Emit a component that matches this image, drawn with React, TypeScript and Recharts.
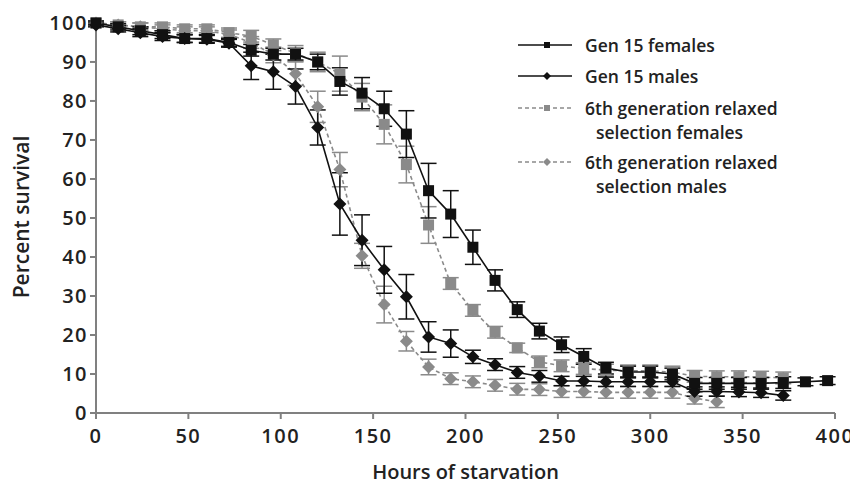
import React from "react";
import { LineChart, Line, XAxis, YAxis, ErrorBar } from "recharts";

// hours of starvation, sampled every 12 h
const hours = [
  0, 12, 24, 36, 48, 60, 72, 84, 96, 108, 120, 132, 144, 156, 168, 180, 192,
  204, 216, 228, 240, 252, 264, 276, 288, 300, 312, 324, 336, 348, 360, 372,
  384, 396,
];

const gen15Females = [
  100, 99, 98, 97, 96, 96, 95, 93, 92, 92, 90, 85, 82, 78, 71.5, 57, 51, 42.5,
  34, 26.5, 21, 17.5, 14.5, 11.5, 10.5, 10.5, 10, 7.6, 7.6, 7.6, 7.6, 7.8, 8,
  8.3,
];
const gen15FemalesErr = [
  0.5, 0.8, 1, 1, 1, 1, 1, 1.5, 1.5, 1.5, 2, 3.5, 4, 4.5, 6, 7, 6, 4.4, 2.7,
  2, 2, 2, 2, 1.5, 1.5, 1.5, 1.5, 1.5, 1.5, 1.5, 1.5, 1.5, 1, 1,
];

const gen15Males = [
  99.5, 98.5, 97.5, 96.5, 96, 95.8, 94.8, 89, 87.5, 83.7, 73.2, 53.6, 44.3,
  36.7, 29.8, 19.5, 17.8, 14.4, 12.4, 10.4, 9.4, 8.2, 8.2, 8, 8, 8, 8, 5.5,
  5.5, 5.4, 5.2, 4.5,
];
const gen15MalesErr = [
  0.5, 0.8, 1, 1, 1, 1, 1, 3.5, 4.5, 4.5, 4.5, 8, 6.5, 6, 5.7, 3.9, 3.5, 1.7,
  1.5, 1.5, 1.5, 1.2, 1.2, 1.2, 1.2, 1.2, 1.2, 1.2, 1.2, 1.2, 1.2, 1.2,
];

const relaxedFemales = [
  100, 99.5, 99, 99, 98.5, 98.5, 97.5, 96.6, 94.4, 92.2, 90, 87, 81, 74,
  63.7, 48.2, 33.2, 26.3, 20.7, 16.7, 13.1, 12.1, 11.4, 11, 10.8, 10.8, 10.5,
  9.4, 9.3, 9.3, 9.2, 9,
];
const relaxedFemalesErr = [
  0.5, 0.8, 1, 1, 1, 1, 1.2, 1.5, 1.5, 2, 2.5, 4.5, 3.5, 5, 4.7, 4.7, 1.5,
  1.5, 1.5, 1.2, 1.5, 1.5, 1.5, 1.5, 1.5, 1.5, 1.5, 1.5, 1.5, 1.5, 1.5, 1.5,
];

const relaxedMales = [
  100, 99.5, 99, 98.5, 98, 98, 97, 95, 91.8, 87, 78.5, 62.4, 40.3, 27.8, 18.4,
  11.8, 8.8, 8, 7.1, 6.1, 6, 5.5, 5.5, 5.3, 5.3, 5.3, 5.3, 3.8, 2.9,
];
const relaxedMalesErr = [
  0.5, 0.8, 1, 1, 1, 1, 1.2, 1.5, 2, 3, 4, 4.4, 3.2, 4.7, 2.5, 2, 1.5, 1.5,
  1.5, 1.5, 1.5, 1.5, 1.5, 1.5, 1.5, 1.5, 1.5, 1.5, 1.5,
];

const xTicks = [0, 50, 100, 150, 200, 250, 300, 350, 400];
const yTicks = [0, 10, 20, 30, 40, 50, 60, 70, 80, 90, 100];

const FONT = "'Open Sans', sans-serif";
const BLACK = "#111";
const GREY = "#8a8a8a";
const AXIS = "#808080";

function toRows(values: number[], errs: number[]) {
  return values.map((v, i) => ({ hour: hours[i], value: v, err: errs[i] }));
}

function squareDot(color: string, size: number) {
  return (props: any) => {
    const { cx, cy, index } = props;
    if (cx == null || cy == null) return <g key={index} />;
    const h = size / 2;
    return <rect key={index} x={cx - h} y={cy - h} width={size} height={size} fill={color} />;
  };
}

function diamondDot(color: string, size: number) {
  return (props: any) => {
    const { cx, cy, index } = props;
    if (cx == null || cy == null) return <g key={index} />;
    const h = size / 2;
    return (
      <polygon
        key={index}
        points={`${cx},${cy - h} ${cx + h},${cy} ${cx},${cy + h} ${cx - h},${cy}`}
        fill={color}
      />
    );
  };
}

const legendRows = [
  { lines: ["Gen 15 females"], color: BLACK, dashed: false, marker: "square", y: 22 },
  { lines: ["Gen 15 males"], color: BLACK, dashed: false, marker: "diamond", y: 53 },
  { lines: ["6th generation relaxed", "selection females"], color: GREY, dashed: true, marker: "square", y: 85 },
  { lines: ["6th generation relaxed", "selection males"], color: GREY, dashed: true, marker: "diamond", y: 139 },
];

function ChartLegend() {
  return (
    <svg
      width={340}
      height={190}
      style={{ position: "absolute", left: 505, top: 15, display: "block" }}
    >
      {legendRows.map((r) => (
        <g key={r.lines[0] + r.y}>
          <line
            x1={5}
            x2={59}
            y1={r.y}
            y2={r.y}
            stroke={r.color}
            strokeWidth={1.6}
            strokeDasharray={r.dashed ? "4 3" : undefined}
          />
          {r.marker === "square" ? (
            <rect x={31} y={r.y - 3} width={6} height={6} fill={r.color} />
          ) : (
            <polygon
              points={`34,${r.y - 4} 38,${r.y} 34,${r.y + 4} 30,${r.y}`}
              fill={r.color}
            />
          )}
          {r.lines.map((t, i) => (
            <text
              key={t}
              x={i === 0 ? 72 : 83}
              y={r.y + i * 24}
              dominantBaseline="central"
              fontFamily={FONT}
              fontWeight={600}
              fontSize={17.5}
              fill="#222"
            >
              {t}
            </text>
          ))}
        </g>
      ))}
    </svg>
  );
}

export default function App() {
  const tickStyle = { fontFamily: FONT, fontWeight: 600, fontSize: 20, fill: "#222", letterSpacing: 1.5 };
  const titleStyle = { fontFamily: FONT, fontWeight: 600, fontSize: 20, fill: "#222" };
  return (
    <div style={{ position: "relative", width: 850, height: 481 }}>
      <LineChart width={850} height={481} margin={{ top: 13, right: 23, bottom: 10, left: 8 }}>
        <XAxis
          dataKey="hour"
          type="number"
          domain={[0, 400]}
          ticks={xTicks}
          allowDuplicatedCategory={false}
          height={66}
          stroke={AXIS}
          strokeWidth={2}
          tickSize={6}
          tickMargin={10}
          tick={tickStyle}
          label={{
            value: "Hours of starvation",
            position: "insideBottom",
            offset: 0,
            style: titleStyle,
          }}
        />
        <YAxis
          type="number"
          domain={[0, 100]}
          ticks={yTicks}
          width={80}
          stroke={AXIS}
          strokeWidth={2}
          tickSize={6}
          tickMargin={2}
          tick={tickStyle}
          label={{
            value: "Percent survival",
            angle: -90,
            position: "insideLeft",
            offset: 6,
            style: { ...titleStyle, fontSize: 21, textAnchor: "middle" },
          }}
        />
        <Line
          data={toRows(relaxedMales, relaxedMalesErr)}
          dataKey="value"
          name="6th generation relaxed selection males"
          stroke={GREY}
          strokeWidth={1.6}
          strokeDasharray="4 3"
          dot={diamondDot(GREY, 13)}
          activeDot={false}
          isAnimationActive={false}
        >
          <ErrorBar dataKey="err" width={8} stroke={GREY} strokeWidth={1.5} />
        </Line>
        <Line
          data={toRows(relaxedFemales, relaxedFemalesErr)}
          dataKey="value"
          name="6th generation relaxed selection females"
          stroke={GREY}
          strokeWidth={1.6}
          strokeDasharray="4 3"
          dot={squareDot(GREY, 11)}
          activeDot={false}
          isAnimationActive={false}
        >
          <ErrorBar dataKey="err" width={8} stroke={GREY} strokeWidth={1.5} />
        </Line>
        <Line
          data={toRows(gen15Males, gen15MalesErr)}
          dataKey="value"
          name="Gen 15 males"
          stroke={BLACK}
          strokeWidth={1.6}
          dot={diamondDot(BLACK, 13)}
          activeDot={false}
          isAnimationActive={false}
        >
          <ErrorBar dataKey="err" width={8} stroke={BLACK} strokeWidth={1.5} />
        </Line>
        <Line
          data={toRows(gen15Females, gen15FemalesErr)}
          dataKey="value"
          name="Gen 15 females"
          stroke={BLACK}
          strokeWidth={1.6}
          dot={squareDot(BLACK, 11)}
          activeDot={false}
          isAnimationActive={false}
        >
          <ErrorBar dataKey="err" width={8} stroke={BLACK} strokeWidth={1.5} />
        </Line>
      </LineChart>
      <ChartLegend />
    </div>
  );
}
